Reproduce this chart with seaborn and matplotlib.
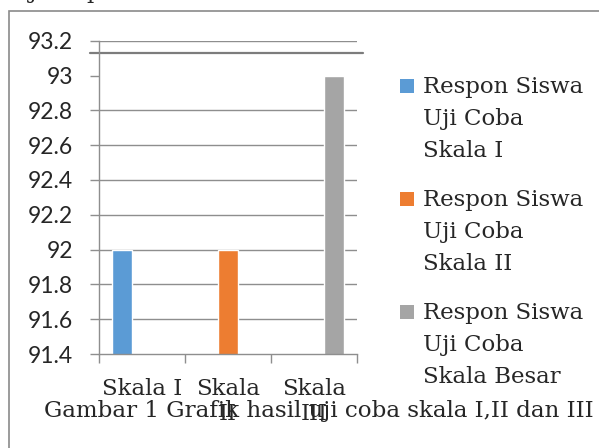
import numpy as np
import pandas as pd
import matplotlib.pyplot as plt
from matplotlib.patches import Rectangle
import seaborn as sns

# data
categories = ["Skala I", "Skala II", "Skala III"]
tick_labels = ["Skala I", "Skala\nII", "Skala\nIII"]
series_names = ["Respon Siswa\nUji Coba\nSkala I",
                "Respon Siswa\nUji Coba\nSkala II",
                "Respon Siswa\nUji Coba\nSkala Besar"]
skala_1 = [92, np.nan, np.nan]
skala_2 = [np.nan, 92, np.nan]
skala_besar = [np.nan, np.nan, 93]
y_ticks = [91.4, 91.6, 91.8, 92.0, 92.2, 92.4, 92.6, 92.8, 93.0, 93.2]
colors = ["#5B9BD5", "#ED7D31", "#A5A5A5"]

rows = []
for name, vals in zip(series_names, [skala_1, skala_2, skala_besar]):
    for cat, v in zip(categories, vals):
        rows.append({"kategori": cat, "nilai": v, "seri": name})
df = pd.DataFrame(rows)

sns.set_style("white")
serif = "DejaVu Serif"
sans = "Lato"
grid_c = "#8e8e8e"

fig = plt.figure(figsize=(5.99, 4.48), dpi=100)
ax = fig.add_axes([99 / 599, 1 - 354 / 448, 258 / 599, (354 - 40.7) / 448])

sns.barplot(data=df, x="kategori", y="nilai", hue="seri",
            order=categories, hue_order=series_names, palette=colors,
            width=0.7, saturation=1, errorbar=None, legend=False, ax=ax)

ax.set_ylim(91.4, 93.2)
ax.set_xlim(-0.5, 2.5)

# gridlines (the one at 93 is missing in the original, a stray line sits above it)
for v in y_ticks[1:]:
    if abs(v - 93.0) > 1e-6:
        ax.axhline(v, color=grid_c, lw=1.0, zorder=0)
ax.axhline(93.128, xmin=-0.035, xmax=1.023, color="#7c7c7c", lw=1.6,
           clip_on=False, zorder=0)

ax.set_yticks(y_ticks, [f"{v:g}" for v in y_ticks])
ax.tick_params(axis="y", length=6.5, width=1.0, color=grid_c, pad=12,
               labelsize=16.5, left=True)
for t in ax.get_yticklabels():
    t.set_fontfamily(sans)

ax.set_xticks([0, 1, 2], tick_labels)
ax.set_xticks([-0.5, 0.5, 1.5, 2.5], minor=True)
ax.tick_params(axis="x", which="major", length=0, pad=17.5, labelsize=16.5)
ax.tick_params(axis="x", which="minor", length=6.5, width=1.0, color=grid_c,
               bottom=True)
for t in ax.get_xticklabels():
    t.set_fontfamily(serif)
    t.set_linespacing(1.15)

for side in ["top", "right"]:
    ax.spines[side].set_visible(False)
for side in ["left", "bottom"]:
    ax.spines[side].set_color(grid_c)
    ax.spines[side].set_linewidth(1.0)
ax.set_xlabel("")
ax.set_ylabel("")

# legend, one square per series next to the first text line
for i, (name, c) in enumerate(zip(series_names, colors)):
    y_top = 79 + i * 113
    fig.patches.append(Rectangle((400 / 599, 1 - (y_top + 14) / 448), 14 / 599, 14 / 448,
                                 transform=fig.transFigure, facecolor=c,
                                 edgecolor="none"))
    fig.text(423 / 599, 1 - (y_top - 3) / 448, name, fontsize=16.5,
             family=serif, va="top", ha="left", linespacing=1.6)

# caption and the cut-off line above the frame
fig.text(44 / 599, 1 - 411 / 448, "Gambar 1 Grafik hasil uji coba skala I,II dan III",
         fontsize=16.6, family=serif, va="center", ha="left")
fig.text(10 / 599, 1 + 2 / 448, "Uji respon siswa skala besar", fontsize=16.5,
         family=serif, va="baseline", ha="left")

# frame of the embedded chart
fig.patches.append(Rectangle((9 / 599, -0.2), 1.2, 1.2 - 11 / 448,
                             transform=fig.transFigure, facecolor="none",
                             edgecolor="#8a8a8a", lw=1.2))

fig.savefig("out.png", dpi=100)
